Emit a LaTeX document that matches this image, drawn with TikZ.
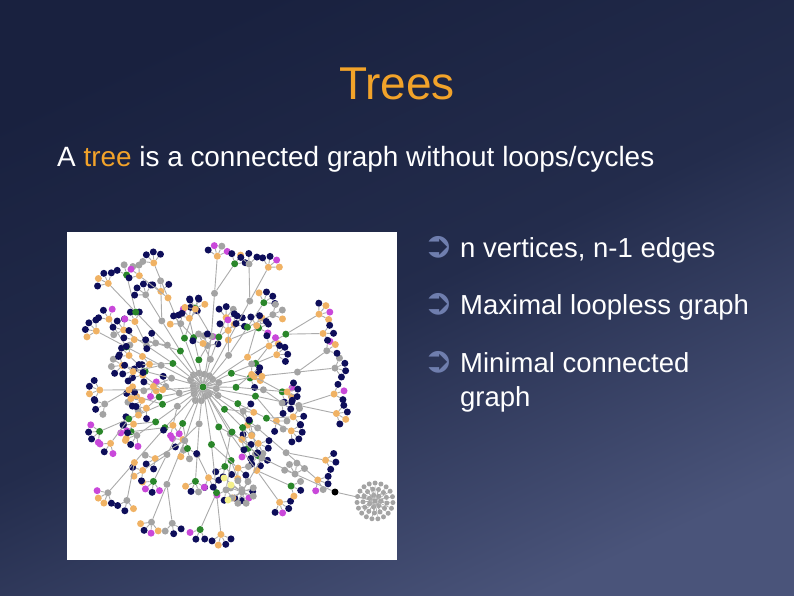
\documentclass[tikz,border=0pt]{standalone}
\usepackage{fontspec}
\setmainfont{Liberation Sans}
\newfontfamily\dingfont{DejaVu Sans}
\usepackage{xcolor}
\usetikzlibrary{calc}
\definecolor{slidetop}{HTML}{19213F}
\definecolor{slidemid}{HTML}{232C4C}
\definecolor{slidebot}{HTML}{4A547A}
\definecolor{titleorange}{HTML}{F2A32A}
\definecolor{bulletblue}{HTML}{6F7EAE}
\definecolor{gnavy}{HTML}{0E0E5A}
\definecolor{ggreen}{HTML}{2A862A}
\definecolor{ggray}{HTML}{A3A3A3}
\definecolor{gorange}{HTML}{F0B264}
\definecolor{gpurple}{HTML}{C948DA}
\definecolor{gyellow}{HTML}{F4F08A}
\definecolor{gedge}{HTML}{ABABAB}
\tikzset{
  title/.style   = {font=\fontsize{46}{52}\selectfont, text=titleorange, anchor=base, inner sep=0pt},
  body/.style    = {font=\fontsize{27.9}{32}\selectfont, text=white, anchor=base west, inner sep=0pt},
  point/.style   = {font=\fontsize{27.5}{32}\selectfont, text=white, anchor=base west, inner sep=0pt},
  bul/.style     = {font=\dingfont\fontsize{36}{36}\selectfont, text=bulletblue, inner sep=0pt},
  vtx/.style     = {circle, inner sep=0pt, minimum size=7pt},
  dot/.style     = {circle, inner sep=0pt, minimum size=5pt, fill=ggray},
  edg/.style     = {draw=gedge, line width=0.9pt},
}

\begin{document}
\begin{tikzpicture}[x=1pt,y=-1pt]
  \pgfmathsetseed{5}
  \pgfmathdeclarerandomlist{leafc}{{gnavy}{gnavy}{gnavy}{gnavy}{gnavy}{gorange}{gpurple}{ggray}}
  \pgfmathdeclarerandomlist{midc}{{ggreen}{ggreen}{ggreen}{ggray}{ggray}{gorange}}
  \pgfmathdeclarerandomlist{endc}{{gorange}{gorange}{gorange}{ggreen}{ggray}}

  % slide
  \shade[top color=slidetop, bottom color=slidebot, middle color=slidemid, shading angle=25]
    (0,0) rectangle (794,595);
  \fill[white] (67,232) rectangle (397,560);
  \useasboundingbox (0,0) rectangle (794,595);

  % texts
  \node[title] (title) at (397,99) {Trees};
  \node[body] (intro) at (57,166) {A \textcolor{titleorange}{tree} is a connected graph without loops/cycles};
  \node[bul] (b1) at (439,247.5) {➲};
  \node[point] (p1) at (460,257) {n vertices, n-1 edges};
  \node[bul] (b2) at (439,304.5) {➲};
  \node[point] (p2) at (460,314) {Maximal loopless graph};
  \node[bul] (b3) at (439,362.5) {➲};
  \node[point] (p3) at (460,372) {Minimal connected};
  \node[point] (p3b) at (460,406) {graph};

  % tree picture
  \node[vtx, fill=ggreen] (hub) at (203,387) {};
  \foreach \k in {0,...,15} {
    \pgfmathsetmacro\rr{9+9*rnd}
    \node[vtx, fill=ggray] (h\k) at ($(hub)+(\k*22.5+7:\rr)$) {};
    \draw[edg] (hub) -- (h\k);
  }
  \foreach \i in {1,...,30} {
    \pgfmathsetmacro\ang{\i*12+4*rand}
    \pgfmathsetmacro\angb{\ang+6*rand}
    \pgfmathsetmacro\cx{cos(\ang)}
    \pgfmathsetmacro\sy{sin(\ang)}
    \pgfmathsetmacro\rx{ifthenelse(\cx>0, 150/max(\cx,0.05), 123/max(-\cx,0.05))}
    \pgfmathsetmacro\ry{ifthenelse(\sy>0, 170/max(\sy,0.05), 145/max(-\sy,0.05))}
    \pgfmathsetmacro\L{min(\rx,\ry,165)*ifthenelse(mod(\i,2)==1, 0.94+0.04*rand, 0.62+0.12*rand)}
    \pgfmathsetmacro\ra{0.36*\L}
    \pgfmathsetmacro\rb{0.3*\L}
    \pgfmathsetmacro\rc{0.26*\L}
    \pgfmathsetmacro\sg{ifthenelse(rnd>0.5,1,-1)}
    \pgfmathsetmacro\kb{\angb+\sg*30}
    \pgfmathsetmacro\jb{\ang-\sg*40}
    \pgfmathsetmacro\rk{0.25*\L}
    \pgfmathsetmacro\rj{0.22*\L}
    \pgfmathrandomitem{\ca}{midc}
    \pgfmathrandomitem{\cb}{midc}
    \pgfmathrandomitem{\cc}{endc}
    \pgfmathrandomitem{\ck}{endc}
    \pgfmathrandomitem{\cj}{endc}
    \node[vtx, fill=\ca] (m\i-1) at ($(hub)+(\ang:\ra)$) {};
    \node[vtx, fill=\cb] (m\i-2) at ($(m\i-1)+(\angb:\rb)$) {};
    \node[vtx, fill=\cc] (m\i-3) at ($(m\i-2)+(\angb:\rc)$) {};
    \node[vtx, fill=\ck] (k\i) at ($(m\i-2)+(\kb:\rk)$) {};
    \node[vtx, fill=\cj] (j\i) at ($(m\i-1)+(\jb:\rj)$) {};
    \draw[edg] (hub) -- (m\i-1) -- (m\i-2) -- (m\i-3);
    \draw[edg] (m\i-2) -- (k\i);
    \draw[edg] (m\i-1) -- (j\i);
    \foreach \d in {-60,-20,20,60} {
      \pgfmathrandomitem{\cl}{leafc}
      \node[vtx, fill=\cl] (m\i-3-\d) at ($(m\i-3)+(\angb+\d:11)$) {};
      \draw[edg] (m\i-3) -- (m\i-3-\d);
    }
    \foreach \d in {-50,0,50} {
      \pgfmathrandomitem{\cl}{leafc}
      \node[vtx, fill=\cl] (k\i-\d) at ($(k\i)+(\kb+\d:10.5)$) {};
      \draw[edg] (k\i) -- (k\i-\d);
    }
    \foreach \d in {-50,0,50} {
      \pgfmathrandomitem{\cl}{leafc}
      \node[vtx, fill=\cl] (j\i-\d) at ($(j\i)+(\jb+\d:10.5)$) {};
      \draw[edg] (j\i) -- (j\i-\d);
    }
  }

  % branch to the second star
  \node[vtx, fill=ggreen] (q1) at (232,432) {};
  \node[vtx, fill=ggray] (q2) at (262,458) {};
  \node[vtx, fill=ggray] (q3) at (295,474) {};
  \node[vtx, fill=black] (q4) at (335,492) {};
  \node[vtx, fill=ggray] (q5) at (242,492) {};
  \node[dot] (hub2) at (375,501) {};
  \draw[edg] (hub) -- (q1) -- (q2) -- (q3) -- (q4) -- (hub2);
  \draw[edg] (q2) -- (q5);
  \foreach \d [count=\k] in {200,240,280,330} {
    \node[vtx, fill=ggray] (q3-\k) at ($(q3)+(\d:11)$) {};
    \draw[edg] (q3) -- (q3-\k);
  }
  \foreach \d [count=\k] in {20,70,110,150,200,250,300,340} {
    \node[vtx, fill=ggray] (q5-\k) at ($(q5)+(\d:12)$) {};
    \draw[edg] (q5) -- (q5-\k);
  }
  \foreach \p [count=\k] in {(224,478),(231,485),(228,500)} {
    \node[vtx, fill=gyellow] (y\k) at \p {};
    \draw[edg] (q5) -- (y\k);
  }
  \foreach \r/\n/\o in {6/7/0,12/13/10,18/19/5} {
    \foreach \k in {1,...,\n} {
      \node[dot] (r\r-\k) at ($(hub2)+(\k*360/\n+\o:\r)$) {};
      \draw[gedge, line width=0.6pt] (hub2) -- (r\r-\k);
    }
  }
\end{tikzpicture}
\end{document}
